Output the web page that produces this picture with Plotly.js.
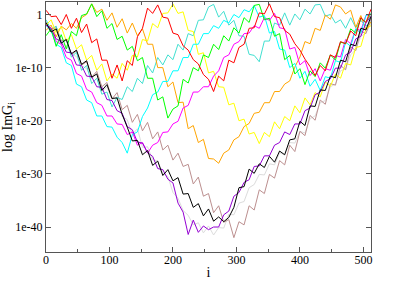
<!DOCTYPE html>
<html><head><meta charset="utf-8">
<script src="https://cdn.plot.ly/plotly-3.0.1.min.js"></script>
<style>html,body{margin:0;padding:0;background:#fff}#chart{width:399px;height:282px}</style>
</head><body><div id="chart"></div>
<script>
// site index i
const site = [0,8,16,24,32,40,48,56,64,72,80,88,96,104,112,120,128,136,144,152,160,168,176,184,192,200,208,216,224,232,240,248,256,264,272,280,288,296,304,312,320,328,336,344,352,360,368,376,384,392,400,408,416,424,432,440,448,456,464,472,480,488,496,504,512];
// log10 |Im G_i|, one array per curve
const grayLog = [-2,-3.4,-3.9,-5.6,-5.8,-7.5,-7.9,-9.6,-10.2,-12.1,-11.0,-14.5,-13.6,-16.0,-15.5,-19.2,-19.8,-22.6,-21.5,-25.0,-24.9,-27.3,-27.6,-29.9,-30.5,-33.5,-34.6,-36.9,-37.8,-39.6,-39.2,-41.1,-39.8,-41.5,-40.1,-40.2,-37.6,-37.7,-35.5,-35.2,-32.6,-32.0,-30.1,-30.2,-28.1,-28.3,-26.0,-26.4,-24.1,-24.2,-22.0,-22.3,-19.6,-19.1,-16.6,-16.2,-13.6,-13.1,-10.6,-10.2,-7.6,-6.6,-4.1,-3.5,-1.7];
const brownLog = [-1.5,-2.9,-2.3,-4.9,-4.8,-7.6,-6.8,-9.5,-8.9,-11.8,-10.7,-13.6,-12.8,-15.9,-14.7,-17.9,-17.1,-20.3,-18.8,-21.9,-20.3,-23.4,-22.1,-25.5,-24.6,-27.4,-26.1,-28.6,-28.2,-31.9,-30.6,-34.2,-33.7,-37.3,-36.0,-39.1,-38.6,-42.0,-39.0,-39.6,-36.0,-36.8,-33.0,-33.7,-30.1,-30.8,-27.5,-28.3,-24.6,-25.8,-22.0,-22.8,-19.0,-19.9,-16.1,-16.9,-13.0,-13.3,-9.6,-10.4,-6.1,-6.8,-3.1,-3.6,-0.8];
const turquoiseLog = [-1,-2.8,-2.2,-5.4,-4.7,-8.0,-7.1,-10.5,-9.6,-13.0,-12.0,-15.0,-14.6,-17.4,-15.6,-16.0,-13.6,-14.5,-12.0,-13.0,-9.6,-11.0,-8.1,-9.5,-7.6,-8.5,-5.6,-6.7,-3.6,-4.0,-1.1,-1.0,1.4,1.9,-0.5,0.6,-2.0,-1.1,-4.0,-4.1,-7.5,-7.7,-8.9,-5.0,-5.0,-1.6,-2.0,0.3,-2.0,0.1,-1.0,1.0,0.1,1.8,1.9,-0.3,0.0,-1.6,-1.0,-2.6,-0.6,-2.5,-1.1,-2.2,-1.4];
const orangeLog = [-3,-2.0,-4.2,-2.2,-2.9,-1.7,-2.6,-0.6,0.0,2.0,0.4,1.0,-1.1,0.3,-2.4,-0.8,-3.5,-1.6,-4.0,-2.7,-5.6,-5.6,-10.0,-10.0,-13.6,-12.7,-16.6,-16.5,-21.5,-20.9,-24.1,-23.5,-27.1,-27.2,-28.0,-26.1,-25.5,-23.6,-23.0,-21.1,-20.5,-18.6,-18.4,-16.6,-16.6,-14.5,-14.5,-13.1,-12.5,-9.9,-8.0,-5.1,-5.5,-2.6,-3.0,-0.1,-0.9,1.8,1.4,0.1,0.8,-2.4,-0.2,-2.9,-1.4];
const yellowLog = [-2,-1.0,-3.4,-2.3,-5.0,-3.8,-6.5,-5.7,-8.6,-7.7,-10.5,-9.3,-12.5,-11.2,-12.0,-9.2,-10.5,-7.7,-8.0,-4.7,-5.0,-1.7,-2.5,0.2,0.3,2.0,0.2,0.5,-3.0,-3.2,-7.5,-7.2,-11.0,-10.7,-13.6,-13.7,-17.0,-16.7,-20.0,-19.7,-22.5,-22.2,-24.3,-22.2,-23.0,-20.2,-21.5,-19.2,-20.0,-17.2,-18.5,-15.7,-17.0,-14.7,-15.5,-12.7,-13.5,-11.2,-12.0,-9.2,-9.5,-6.2,-6.0,-2.7,-2.1];
const magentaLog = [-2,-2.6,-5.1,-5.6,-8.1,-8.6,-11.1,-11.6,-14.1,-14.6,-16.6,-17.1,-19.1,-19.1,-20.6,-20.7,-22.6,-22.1,-24.6,-24.1,-26.1,-24.6,-24.1,-22.2,-22.1,-20.6,-20.1,-17.6,-17.1,-14.6,-14.6,-13.6,-13.6,-11.6,-10.6,-8.1,-7.6,-5.6,-5.1,-3.6,-3.5,-2.1,-2.6,-0.6,-1.1,0.2,-2.5,-2.7,-6.5,-6.2,-9.5,-8.7,-11.5,-10.2,-12.5,-10.2,-10.5,-7.7,-8.0,-4.7,-5.5,-2.7,-3.0,-0.2,0];
const cyanLog = [-2,-3.1,-5.6,-6.2,-9.1,-9.6,-13.1,-13.6,-16.1,-16.6,-19.1,-19.1,-21.1,-21.2,-23.1,-24.1,-26.1,-22.6,-22.1,-19.2,-17.6,-15.1,-14.6,-12.6,-12.6,-10.6,-10.6,-8.1,-8.1,-5.6,-5.6,-3.6,-3.6,-2.1,-2.6,-1.1,-1.6,0.0,-0.6,0.9,0.5,1.7,-0.5,-0.2,-3.5,-3.2,-6.5,-6.7,-10.0,-9.2,-12.0,-10.7,-13.5,-12.2,-14.3,-11.7,-12.0,-8.7,-9.0,-5.2,-6.0,-2.7,-3.5,-0.2,0.1];
const greenLog = [-4,-2.7,-6.0,-3.8,-6.5,-3.2,-4.0,-0.2,0.1,2.0,-0.4,0.7,-2.6,-1.7,-4.7,-4.1,-6.7,-6.0,-8.7,-8.1,-12.0,-12.0,-16.1,-15.5,-19.5,-17.8,-17.2,-12.2,-12.9,-10.0,-10.6,-7.6,-8.1,-5.6,-6.6,-4.0,-5.0,-2.5,-3.5,-0.6,-1.5,1.7,1.9,-1.0,-0.7,-4.1,-3.6,-8.5,-7.7,-11.2,-10.2,-13.2,-10.6,-11.7,-9.1,-10.1,-7.6,-8.6,-5.2,-5.5,-2.7,-3.5,-0.7,-1.5,0.2];
const purpleLog = [-2,-2.6,-4.6,-5.1,-7.1,-7.2,-9.5,-9.6,-11.6,-11.7,-13.6,-13.7,-16.0,-16.2,-18.1,-18.6,-21.1,-21.7,-24.0,-24.2,-26.0,-26.7,-29.0,-29.2,-31.0,-31.7,-35.5,-37.2,-41.4,-38.7,-41.0,-39.8,-40.5,-40.0,-40.0,-37.7,-37.0,-34.2,-33.5,-31.6,-31.1,-28.6,-28.5,-26.6,-26.6,-24.6,-24.1,-22.1,-22.6,-20.6,-20.6,-18.1,-17.6,-15.1,-14.6,-12.6,-12.1,-10.1,-10.1,-7.6,-7.1,-4.6,-4.1,-1.6,-0.3];
const blackLog = [-1.5,-3.3,-2.7,-5.4,-4.7,-7.4,-6.7,-9.4,-8.7,-11.8,-11.2,-14.3,-13.2,-15.8,-15.7,-18.8,-21.2,-23.8,-23.7,-26.4,-25.6,-28.4,-27.6,-30.3,-29.2,-31.3,-30.7,-33.8,-33.7,-36.3,-35.6,-37.9,-36.6,-38.9,-38.1,-39.0,-38.2,-36.3,-32.6,-32.4,-29.1,-29.9,-28.1,-28.8,-26.7,-27.8,-25.7,-26.4,-23.6,-23.4,-20.1,-20.9,-17.2,-17.3,-14.2,-14.3,-11.6,-11.9,-8.6,-8.9,-5.6,-5.9,-2.6,-2.9,-0.4];
const redLog = [0.8,-0.4,-0.3,-1.9,0.0,-2.6,-0.7,-3.4,-1.8,-5.3,-4.6,-8.6,-8.6,-12.0,-9.5,-12.5,-8.7,-9.6,-4.2,-2.6,1.2,0.2,1.8,-0.5,-0.7,-3.5,-3.8,-5.9,-6.7,-8.5,-9.3,-11.3,-12.2,-14.5,-11.6,-12.5,-8.6,-9.1,-6.2,-5.6,-2.6,-2.5,0.3,0.1,2.0,-0.4,-0.6,-3.0,-3.7,-5.5,-6.7,-8.4,-9.8,-11.5,-9.6,-10.6,-7.6,-8.1,-5.1,-5.5,-3.1,-4.0,-0.6,-1.5,1.0];

const yTickVals = [1, 1e-10, 1e-20, 1e-30, 1e-40];
const yTickText = ["1", "1e-10", "1e-20", "1e-30", "1e-40"];
const xTickVals = [0, 100, 200, 300, 400, 500];

const series = [
  [grayLog, '#dcdcdc'], [brownLog, '#bc8f8f'], [turquoiseLog, '#40e0d0'],
  [orangeLog, '#ffa500'], [yellowLog, '#ffff00'], [magentaLog, '#ff00ff'],
  [cyanLog, '#00ffff'], [greenLog, '#00ff00'], [purpleLog, '#9400d3'],
  [blackLog, '#000000'], [redLog, '#ff0000']
];
series.forEach(s => { if (s[0].length !== site.length) throw new Error('length mismatch ' + s[1] + ' ' + s[0].length); });

const traces = series.map(([arr, col]) => ({
  x: site, y: arr.map(v => Math.pow(10, v)), type: 'scatter', mode: 'lines',
  line: {color: col, width: 1}, hoverinfo: 'skip', showlegend: false
}));

const font = 'Liberation Serif, Times New Roman, serif';
const layout = {
  width: 399, height: 282,
  margin: {l: 46, r: 28, t: 2, b: 30},
  paper_bgcolor: '#fff', plot_bgcolor: '#fff',
  showlegend: false,
  font: {family: font, size: 12, color: '#000'},
  xaxis: {
    range: [0, 512], showgrid: false, zeroline: false,
    showline: true, mirror: 'ticks', linecolor: '#555', linewidth: 1,
    ticks: 'inside', ticklen: 5, tickcolor: '#555',
    tickmode: 'array', tickvals: xTickVals, ticklabelstandoff: -3,
    minor: {dtick: 50, ticks: 'inside', ticklen: 3, tickcolor: '#555', showgrid: false},
    tickfont: {family: font, size: 12, color: '#000'},
    title: {text: 'i', font: {family: font, size: 14, color: '#000'}, standoff: 0}
  },
  yaxis: {
    type: 'log', range: [-44.7, 2.35], showgrid: false, zeroline: false,
    showline: true, mirror: 'ticks', linecolor: '#555', linewidth: 1,
    ticks: 'inside', ticklen: 5, tickcolor: '#555',
    tickmode: 'array', tickvals: yTickVals, ticktext: yTickText,
    tickfont: {family: font, size: 12, color: '#000'},
    title: {text: 'log ImG<sub>i</sub>', font: {family: font, size: 14, color: '#000'}, standoff: 4}
  }
};
Plotly.newPlot('chart', traces, layout, {displayModeBar: false, staticPlot: true});
</script></body></html>
